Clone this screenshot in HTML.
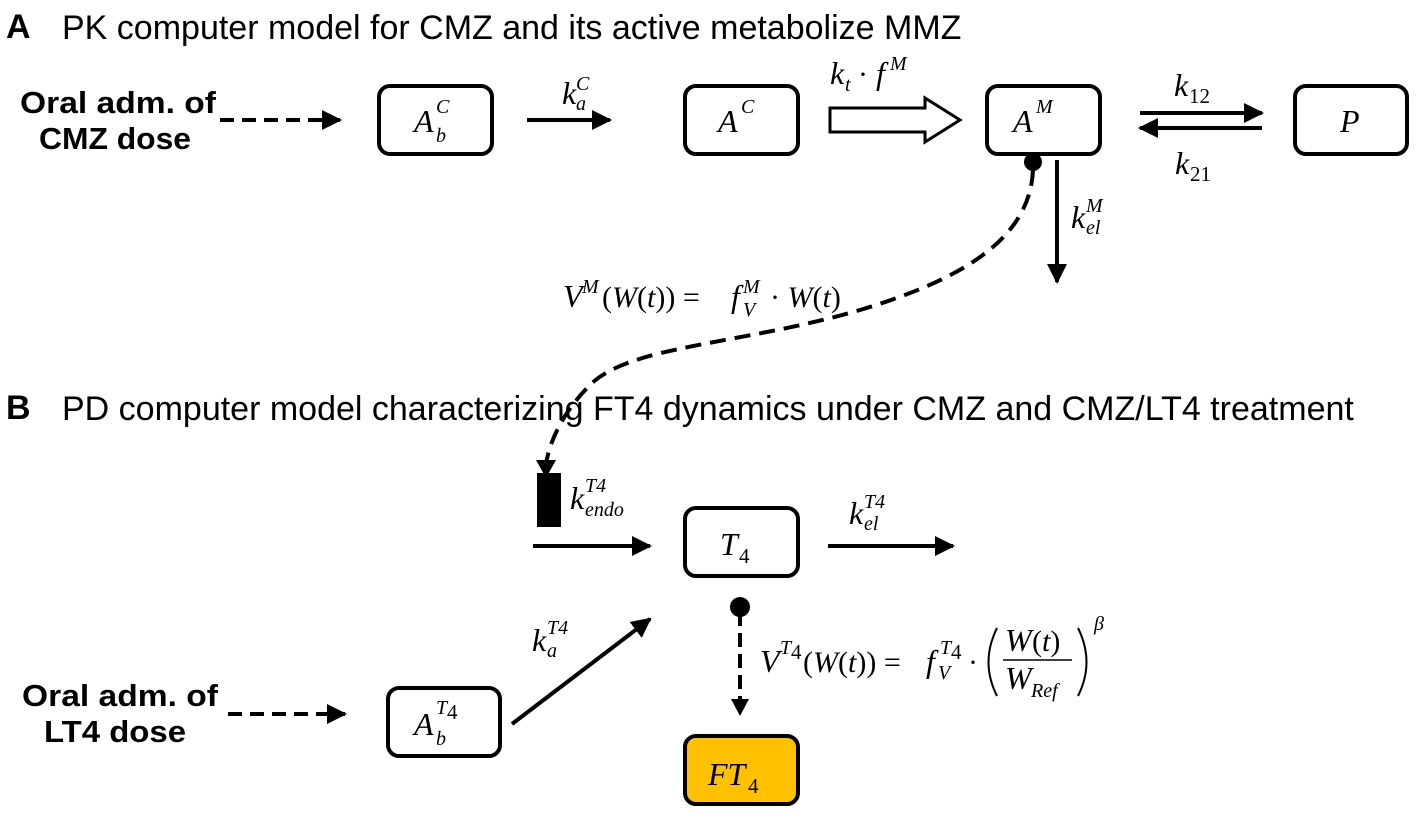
<!DOCTYPE html>
<html><head><meta charset="utf-8"><style>
body{margin:0;background:#fff}
svg{display:block}
.t{font-family:"Liberation Sans",sans-serif;font-size:34px}
.h{font-family:"Liberation Sans",sans-serif;font-size:31px;font-weight:bold}
.m{font-family:"Liberation Serif",serif;font-style:italic;font-size:32px}
.s{font-family:"Liberation Serif",serif;font-style:italic;font-size:20px}
.mu{font-family:"Liberation Serif",serif;font-size:30px}
.su{font-family:"Liberation Serif",serif;font-size:21px}
</style></head><body>
<svg width="1417" height="816" viewBox="0 0 1417 816" xmlns="http://www.w3.org/2000/svg">
<defs>
<marker id="ar" viewBox="0 0 10 10" refX="9" refY="5" markerWidth="5" markerHeight="5" orient="auto"><path d="M0,0L10,5L0,10z" fill="#000"/></marker>
</defs>
<text x="6" y="38" class="t" font-weight="bold" font-size="30">A</text>
<text x="62" y="39" class="t">PK computer model for CMZ and its active metabolize MMZ</text>
<text x="6" y="419" class="t" font-weight="bold" font-size="30">B</text>
<text x="62" y="420" class="t">PD computer model characterizing FT4 dynamics under CMZ and CMZ/LT4 treatment</text>

<text x="216" y="113" class="h" text-anchor="end" textLength="196" lengthAdjust="spacingAndGlyphs">Oral adm. of</text>
<text x="191" y="149" class="h" text-anchor="end" textLength="152" lengthAdjust="spacingAndGlyphs">CMZ dose</text>
<line x1="220" y1="120" x2="340" y2="120" stroke="#000" stroke-width="4" stroke-dasharray="14,8" marker-end="url(#ar)"/>

<g fill="#fff" stroke="#000" stroke-width="4">
<rect x="379" y="86" width="113" height="68" rx="11"/>
<rect x="685" y="86" width="113" height="68" rx="11"/>
<rect x="987" y="86" width="113" height="68" rx="11"/>
<rect x="1295" y="86" width="112" height="68" rx="11"/>
<rect x="685" y="508" width="113" height="68" rx="11"/>
<rect x="388" y="688" width="112" height="68" rx="11"/>
<rect x="685" y="736" width="113" height="68" rx="11" fill="#FFC000"/>
</g>
<text x="414" y="132" class="m">A</text><text x="436" y="113" class="s">C</text><text x="436" y="142" class="s">b</text>
<text x="718" y="132" class="m">A</text><text x="741" y="113" class="s">C</text>
<text x="1013" y="132" class="m">A</text><text x="1036" y="113" class="s">M</text>
<text x="1340" y="132" class="m">P</text>
<text x="720" y="555" class="m">T</text><text x="739" y="563" class="su">4</text>
<text x="414" y="735" class="m">A</text><text x="436" y="714" class="s">T</text><text x="447" y="719" class="su" font-size="15">4</text><text x="436" y="745" class="s">b</text>
<text x="708" y="785" class="m">FT</text><text x="748" y="793" class="su">4</text>

<line x1="527" y1="120" x2="610" y2="120" stroke="#000" stroke-width="4" marker-end="url(#ar)"/>
<text x="562" y="104" class="m" font-size="28">k</text><text x="576" y="90" class="s">C</text><text x="576" y="110" class="s">a</text>

<path d="M830,108 H925 V98 L960,120 L925,142 V132 H830 Z" fill="#fff" stroke="#000" stroke-width="3"/>
<text x="830" y="84" class="m" font-size="28">k</text><text x="845" y="91" class="s">t</text><text x="858" y="84" class="mu">·</text><text x="876" y="84" class="m" font-size="28">f</text><text x="890" y="70" class="s">M</text>

<line x1="1140" y1="113" x2="1262" y2="113" stroke="#000" stroke-width="4" marker-end="url(#ar)"/>
<line x1="1262" y1="128" x2="1140" y2="128" stroke="#000" stroke-width="4" marker-end="url(#ar)"/>
<text x="1174" y="96" class="m" font-size="28">k</text><text x="1189" y="103" class="su">12</text>
<text x="1175" y="174" class="m" font-size="28">k</text><text x="1190" y="181" class="su">21</text>

<line x1="1057" y1="160" x2="1057" y2="282" stroke="#000" stroke-width="4" marker-end="url(#ar)"/>
<text x="1071" y="228" class="m" font-size="28">k</text><text x="1086" y="212" class="s">M</text><text x="1086" y="234" class="s">el</text>

<circle cx="1033" cy="162" r="9" fill="#000"/>
<path d="M1033,170 C1030,240 960,280 860,310 C740,345 630,345 590,385 C560,415 549,445 546,464" fill="none" stroke="#000" stroke-width="4" stroke-dasharray="16,9"/>
<path d="M536,460 L556,460 L546,478 Z" fill="#000"/>
<text x="563" y="307" class="m" font-size="28">V</text><text x="582" y="293" class="s">M</text><text x="602" y="307" class="mu" font-size="27">(<tspan font-style="italic">W</tspan>(<tspan font-style="italic">t</tspan>)) = </text><text x="731" y="307" class="m" font-size="28">f</text><text x="743" y="293" class="s">M</text><text x="743" y="316" class="s">V</text><text x="770" y="307" class="mu" font-size="27">· <tspan font-style="italic">W</tspan>(<tspan font-style="italic">t</tspan>)</text>

<rect x="537" y="473" width="24" height="54" fill="#000"/>
<text x="570" y="509" class="m" font-size="28">k</text><text x="585" y="492" class="s">T4</text><text x="585" y="516" class="s">endo</text>
<line x1="533" y1="546" x2="650" y2="546" stroke="#000" stroke-width="4" marker-end="url(#ar)"/>
<line x1="828" y1="546" x2="953" y2="546" stroke="#000" stroke-width="4" marker-end="url(#ar)"/>
<text x="849" y="524" class="m" font-size="28">k</text><text x="864" y="508" class="s">T4</text><text x="864" y="530" class="s">el</text>

<line x1="512" y1="724" x2="650" y2="619" stroke="#000" stroke-width="4" marker-end="url(#ar)"/>
<text x="532" y="651" class="m" font-size="28">k</text><text x="547" y="634" class="s">T4</text><text x="547" y="657" class="s">a</text>

<text x="218" y="706" class="h" text-anchor="end" textLength="196" lengthAdjust="spacingAndGlyphs">Oral adm. of</text>
<text x="186" y="742" class="h" text-anchor="end" textLength="142" lengthAdjust="spacingAndGlyphs">LT4 dose</text>
<line x1="228" y1="714" x2="345" y2="714" stroke="#000" stroke-width="4" stroke-dasharray="14,8" marker-end="url(#ar)"/>

<circle cx="740" cy="607" r="10" fill="#000"/>
<line x1="740" y1="612" x2="740" y2="700" stroke="#000" stroke-width="4" stroke-dasharray="14,7"/>
<path d="M731,699 L749,699 L740,716 Z" fill="#000"/>
<text x="760" y="672" class="m" font-size="29">V</text><text x="780" y="654" class="s">T</text><text x="791" y="659" class="su" font-size="15">4</text><text x="803" y="672" class="mu" font-size="28">(<tspan font-style="italic">W</tspan>(<tspan font-style="italic">t</tspan>)) = </text><text x="926" y="672" class="m" font-size="29">f</text><text x="940" y="654" class="s">T</text><text x="951" y="659" class="su" font-size="15">4</text><text x="938" y="679" class="s">V</text><text x="968" y="672" class="mu" font-size="28">·</text>
<path d="M997,628 Q980,662 997,696" fill="none" stroke="#000" stroke-width="2"/>
<text x="1005" y="651" class="m" font-size="28">W</text><text x="1032" y="651" class="mu" font-size="28">(<tspan font-style="italic">t</tspan>)</text>
<line x1="1003" y1="660" x2="1072" y2="660" stroke="#000" stroke-width="1.5"/>
<text x="1005" y="689" class="m" font-size="28">W</text><text x="1031" y="697" class="s">Ref</text>
<path d="M1078,628 Q1095,662 1078,696" fill="none" stroke="#000" stroke-width="2"/>
<text x="1094" y="630" class="s">β</text>
</svg>
</body></html>
